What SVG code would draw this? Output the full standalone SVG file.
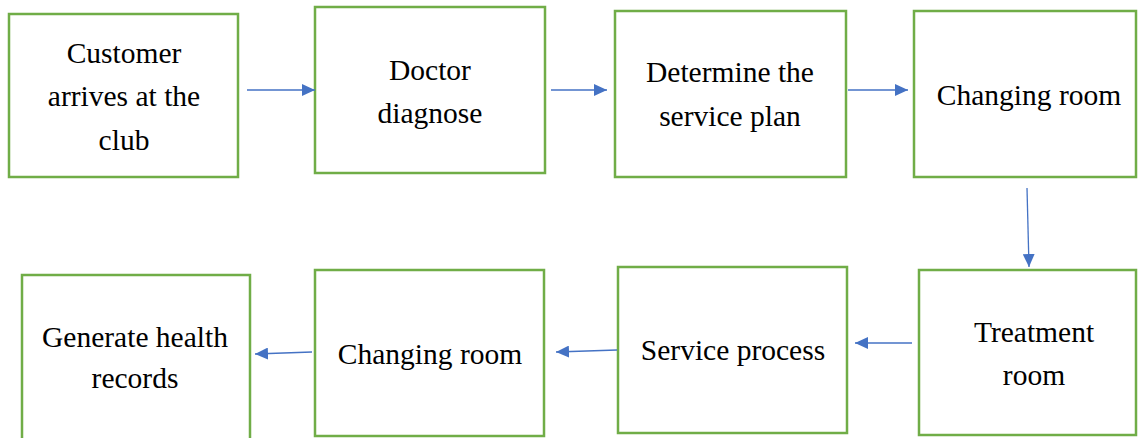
<svg xmlns="http://www.w3.org/2000/svg" width="1138" height="438" viewBox="0 0 1138 438">
<defs>
<style>
.box{fill:#fff;stroke:#70AD47;stroke-width:2.5}
.t{font-size:29.5px;fill:#000;text-anchor:middle}
.c{stroke:#4472C4;stroke-width:1.3;fill:none;marker-end:url(#ah)}
</style>
<marker id="ah" markerUnits="userSpaceOnUse" markerWidth="14" markerHeight="12" refX="13" refY="6" orient="auto">
<path d="M0,0 L13,6 L0,12 Z" fill="#4472C4"/>
</marker>
</defs>
<rect width="1138" height="438" fill="#fff"/>
<g font-family="Liberation Serif, Times New Roman, DejaVu Serif, serif">
<g id="n1"><rect class="box" x="9" y="14" width="229" height="163"/>
<text class="t" x="124" y="63">Customer</text><text class="t" x="124" y="106">arrives at the</text><text class="t" x="124" y="150">club</text></g>
<g id="n2"><rect class="box" x="315" y="7" width="230" height="166"/>
<text class="t" x="430" y="80">Doctor</text><text class="t" x="430" y="123">diagnose</text></g>
<g id="n3"><rect class="box" x="615" y="11" width="231" height="166"/>
<text class="t" x="730" y="82">Determine the</text><text class="t" x="730" y="126">service plan</text></g>
<g id="n4"><rect class="box" x="914" y="11" width="222" height="166"/>
<text class="t" x="1029" y="105">Changing room</text></g>
<g id="n5"><rect class="box" x="919" y="270" width="217" height="165"/>
<text class="t" x="1034" y="342">Treatment</text><text class="t" x="1034" y="385">room</text></g>
<g id="n6"><rect class="box" x="618" y="267" width="229" height="166"/>
<text class="t" x="733" y="360">Service process</text></g>
<g id="n7"><rect class="box" x="315" y="270" width="229" height="166"/>
<text class="t" x="430" y="364">Changing room</text></g>
<g id="n8"><rect class="box" x="22" y="275" width="228" height="170"/>
<text class="t" x="135" y="347">Generate health</text><text class="t" x="135" y="388">records</text></g>
</g>
<g id="connectors">
<line class="c" x1="247" y1="90" x2="315" y2="90"/>
<line class="c" x1="551" y1="90" x2="607" y2="90"/>
<line class="c" x1="848" y1="90" x2="908" y2="90"/>
<line class="c" x1="1027" y1="188" x2="1029" y2="267"/>
<line class="c" x1="912" y1="343" x2="855" y2="343"/>
<line class="c" x1="617" y1="350" x2="556" y2="352"/>
<line class="c" x1="312" y1="352" x2="255" y2="354"/>
</g>
</svg>
